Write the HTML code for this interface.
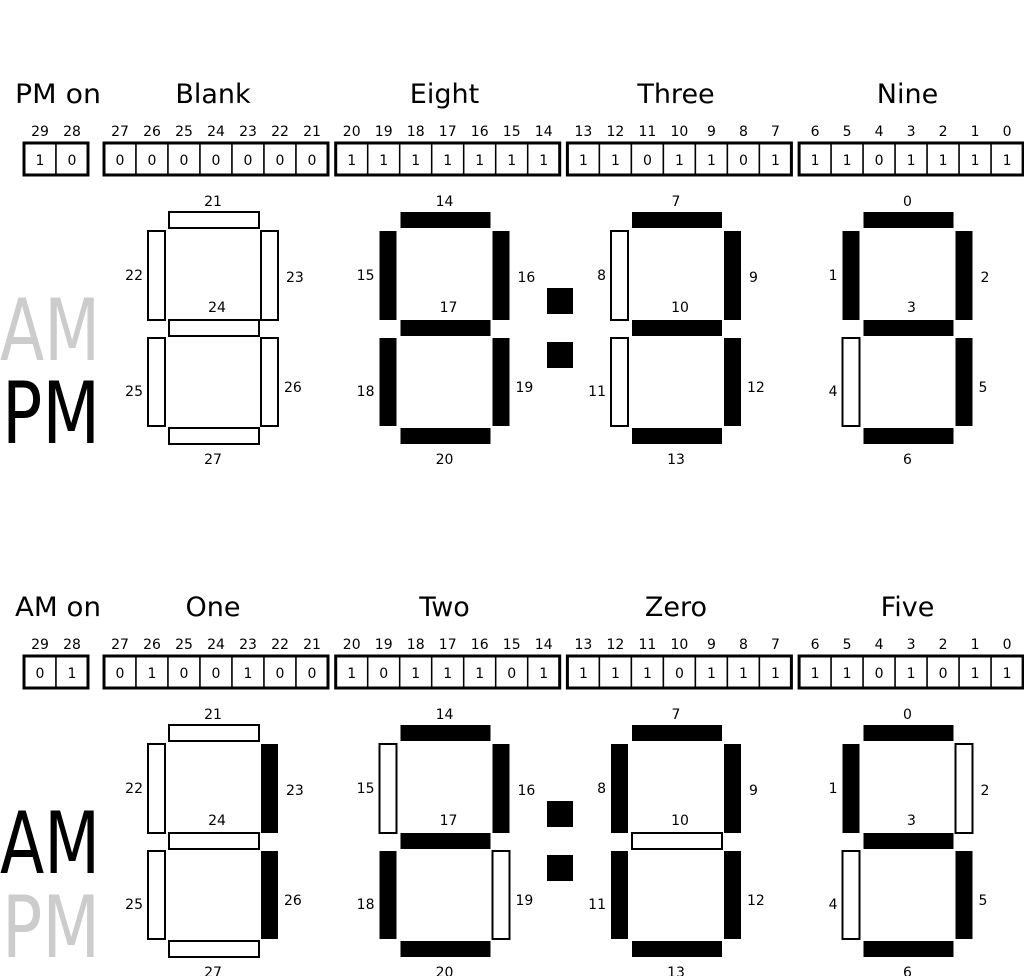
<!DOCTYPE html>
<html><head><meta charset="utf-8"><style>
html,body{margin:0;padding:0;background:#fff;}
svg{display:block;font-family:"DejaVu Sans","Liberation Sans",sans-serif;}
</style></head><body>
<svg id="chart" width="1024" height="976" viewBox="0 0 1024 976" xmlns="http://www.w3.org/2000/svg"></svg>
<script>
// Data
const panelTitles = [["PM on","Blank","Eight","Three","Nine"],["AM on","One","Two","Zero","Five"]];
const indicatorBits = [[1,0],[0,1]]; // bits 29,28
const digitBits = [
  [[0,0,0,0,0,0,0],[1,1,1,1,1,1,1],[1,1,0,1,1,0,1],[1,1,0,1,1,1,1]],
  [[0,1,0,0,1,0,0],[1,0,1,1,1,0,1],[1,1,1,0,1,1,1],[1,1,0,1,0,1,1]]
];
const amOn = [false,true];

const NS="http://www.w3.org/2000/svg";
const svg=document.getElementById('chart');
function mk(tag,attrs,parent){const e=document.createElementNS(NS,tag);for(const k in attrs)e.setAttribute(k,attrs[k]);(parent||svg).appendChild(e);return e;}
function txt(x,y,s,size,anchor,fill,parent){const t=mk('text',{x:x,y:y,'font-size':size,'text-anchor':anchor||'middle',fill:fill||'#000'},parent);t.textContent=s;return t;}

const panelOffsets=[0,513];
const groupX=[104,335.7,567.4,799.1];
const digitL=[148,379.5,611,842.5];
const segGeom=[
  [21,212,90,16],[0,231,17,89],[113,231,17,89],[21,320,90,16],[0,338,17,88],[113,338,17,88],[21,428,90,16]
];
const labelPos=[[65,206,'middle'],[-5,280,'end'],[138,282,'start'],[69,312,'middle'],[-5,396,'end'],[136,392,'start'],[65,464,'middle']];

panelOffsets.forEach((dy,p)=>{
  const g=mk('g',{});
  
  
  const t0=txt(15,103+dy,panelTitles[p][0],27,'start','#000',g);
  
  
  t0.setAttribute('textLength','86');
  t0.setAttribute('lengthAdjust','spacingAndGlyphs');
  for(let d=0;d<4;d++){
    const t=txt(digitL[d]+65,103+dy,panelTitles[p][d+1],27,'middle','#000',g);
    
    
  }
  const am=txt(0,(p===0?360:873),'AM',86,'start',amOn[p]?'#000':'#cccccc',g);
  
  
  am.setAttribute('textLength','100');
  am.setAttribute('lengthAdjust','spacingAndGlyphs');
  const pm=txt(2,(p===0?443:957),'PM',86,'start',amOn[p]?'#cccccc':'#000',g);
  
  
  pm.setAttribute('textLength','98');
  pm.setAttribute('lengthAdjust','spacingAndGlyphs');
  function cells(x0,bits,startBit){
    const n=bits.length;
    bits.forEach((b,i)=>{
      const x=x0+i*32;
      const r=mk('rect',{x:x,y:143+dy,width:32,height:32,fill:'#fff',stroke:'#000','stroke-width':1.5},g);
      
      
      const lb=txt(x+16,136+dy,String(startBit-i),14,'middle','#000',g);
      
      
      const v=txt(x+16,165+dy,String(b),14,'middle','#000',g);
      
      
    });
    const o=mk('rect',{x:x0,y:143+dy,width:32*n,height:32,fill:'none',stroke:'#000','stroke-width':3},g);
    
    
  }
  cells(24,indicatorBits[p],29);
  for(let d=0;d<4;d++){
    const bits=digitBits[p][d];
    cells(groupX[d],bits,27-7*d);
    const base=7*(3-d);
    for(let s=0;s<7;s++){
      const on=bits[6-s]===1;
      const [gx,gy,w,h]=segGeom[s];
      const r=mk('rect',{x:digitL[d]+gx,y:gy+dy,width:w,height:h,fill:on?'#000':'#fff',stroke:'#000','stroke-width':on?0:2},g);
      
      
      const lp=labelPos[s];
      const l=txt(digitL[d]+lp[0],lp[1]+dy,String(base+s),14,lp[2],'#000',g);
      
      
    }
  }
  const c1=mk('rect',{x:547,y:288+dy,width:26,height:26,fill:'#000'},g);
  
  
  const c2=mk('rect',{x:547,y:342+dy,width:26,height:26,fill:'#000'},g);
  
  
});
</script>
</body></html>
